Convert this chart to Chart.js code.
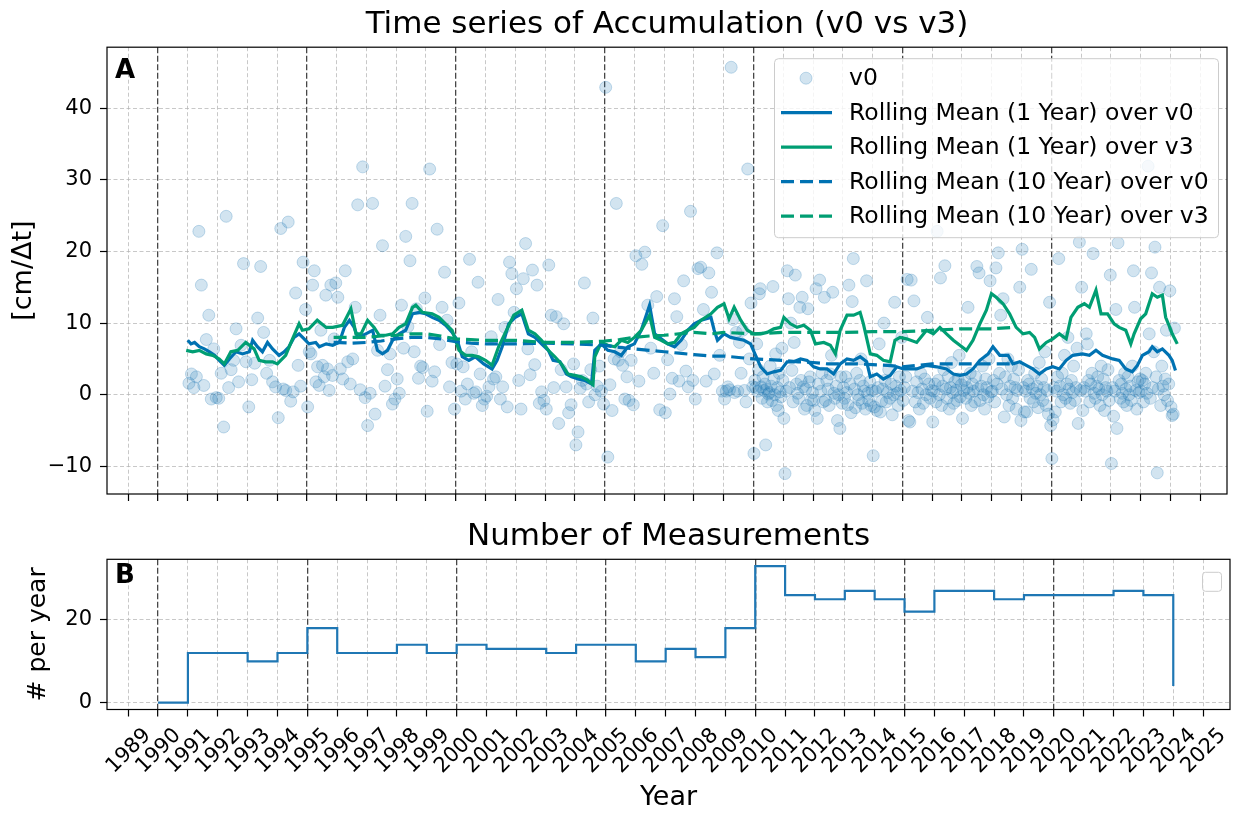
<!DOCTYPE html>
<html>
<head>
<meta charset="utf-8">
<script src="https://cdn.jsdelivr.net/npm/chart.js@4"></script>
<style>
  html, body { margin: 0; padding: 0; background: #fff; overflow: hidden; }
  #wrap { position: relative; width: 1234px; height: 814px; }
  #topBox { position: absolute; left: 0; top: 0; }
  #bottomBox { position: absolute; left: 0; top: 500px; }
</style>
</head>
<body>
<div id="wrap">
  <div id="topBox"><canvas id="accChart" width="1234" height="520"></canvas></div>
  <div id="bottomBox"><canvas id="countChart" width="1234" height="314"></canvas></div>
</div>
<script>
// --- data ---
const yearTicks = [1989, 1990, 1991, 1992, 1993, 1994, 1995, 1996, 1997, 1998, 1999, 2000, 2001, 2002,
    2003, 2004, 2005, 2006, 2007, 2008, 2009, 2010, 2011, 2012, 2013, 2014, 2015, 2016, 2017, 2018,
    2019, 2020, 2021, 2022, 2023, 2024, 2025];
const accTicks = [-10, 0, 10, 20, 30, 40];
const countTicks = [0, 20];
const markerYears = [1990, 1995, 2000, 2005, 2010, 2015, 2020];

// accumulation per measurement (v0), grouped by year, in time order
const scatterYears = [1991, 1992, 1993, 1994, 1995, 1996, 1997, 1998, 1999, 2000, 2001, 2002, 2003, 2004,
    2005, 2006, 2007, 2008, 2009, 2010, 2011, 2012, 2013, 2014, 2015, 2016, 2017, 2018, 2019, 2020,
    2021, 2022, 2023, 2024];
const scatterValues = [
    [1.6, 2.9, 1.0, 2.5, 22.8, 15.3, 1.3, 7.7, 11.1, -0.6, 6.4, -0.4],
    [-0.5, 3.0, -4.5, 24.9, 1.0, 3.5, 4.8, 9.2, 1.8, 6.9, 18.3, 4.6],
    [-1.7, 2.1, 4.4, 10.7, 17.9, 8.7, 3.0, 4.8, 1.8, 1.1],
    [-3.2, 23.2, 0.8, 0.6, 24.1, -0.9, 0.4, 14.2, 4.1, 1.2, 18.5, 11.9],
    [-1.7, 6.0, 5.7, 15.3, 17.3, 1.8, 3.9, 1.3, 9.0, 4.1, 2.5, 13.9, 3.6, 0.6, 15.3, 2.7, 7.8, 15.6],
    [13.6, 3.6, 2.2, 17.3, 4.6, 1.5, 5.0, 12.2, 26.5, 0.7, 31.8, -0.4],
    [-4.3, 0.2, 26.7, -2.7, 6.2, 11.1, 20.8, 1.2, 3.5, 5.7, -1.3, -0.6],
    [2.2, 0.2, 12.5, 6.5, 22.1, 9.5, 18.7, 26.7, 6.0, 12.0, 2.3, 4.0, 3.8, 13.5],
    [-2.3, 31.5, 1.9, 3.2, 23.1, 7.0, 12.2, 17.1, 10.4, 1.1, 4.5, -2.0],
    [4.3, 12.8, 0.5, 3.9, -0.6, 1.5, 18.9, 6.0, 0.2, 0.4, 15.7, 2.9, -1.5, -0.6],
    [-0.2, 1.1, 8.1, 2.2, 2.5, 13.3, -0.6, 1.1, 9.4, -1.7, 18.5, 16.9, 11.5],
    [14.8, 2.0, -2.0, 16.2, 21.1, 6.4, 2.8, 17.4, 4.2, 15.3, -1.2, 0.4, -0.8],
    [-2.0, 18.1, 11.1, 1.0, 10.9, -4.0, 3.5, 9.9, 1.1, -2.5, -1.4, 4.3],
    [-7.0, -5.2, 0.9, 2.0, 15.6, 1.5, -1.0, 3.5, 10.7, 0.0, 1.2, 4.0, 0.5, -1.3],
    [42.9, -8.7, 1.4, -2.2, 5.0, 26.7, 4.8, 6.0, 4.1, -0.6, 2.5, -0.8, 4.8, -1.4],
    [19.4, 1.9, 18.2, 19.9, 12.5, 6.5, 3.0, 13.7, -2.1, 23.6],
    [-2.5, 4.9, 0.1, 2.3, 13.4, 10.9, 1.9, 7.0, 15.9, 3.3, 1.1, 25.6, 2.0],
    [-0.6, 17.6, 17.8, 11.9, 1.9, 17.0, 14.3, 2.9, 19.8, 5.5, 0.5],
    [-0.6, 0.5, 1.1, 0.7, 45.7, 10.5, 0.3, 8.7, 0.5, 7.3, 3.0, 9.0, 0.6, -1.0, 31.5, 5.0, 12.8, 1.1],
    [-8.2, 2.0, 1.0, 7.1, 0.5, 3.5, 14.1, 14.8, 1.1, -0.5, 2.5, 0.6, 1.5, -7.0, 0.8, -1.0, 0.1, 0.3,
     4.0, 1.2, -0.8, 15.1, 2.2, 0.0, 5.7, -1.5, 1.0, -2.2, 3.0, 0.4, -0.3, 6.5, 2.0],
    [-3.3, -11.0, 0.5, 17.3, 13.4, 1.0, 10.0, 3.4, -1.0, 7.3, 16.7, 1.5, 0.2, -0.5, 12.2, 2.0, 13.6,
     1.1, -2.0, 0.8, -1.5, 12.0, 1.8, 2.5, -0.7, 0.3],
    [-0.8, -2.2, 14.8, -3.3, 1.5, 16.0, 0.5, 3.0, -1.0, 13.6, -0.8, 2.0, 0.8, -1.5, 2.9, 5.5, 14.3,
     0.2, -0.5, 1.2, -3.6, 0.0, -4.7, 2.5, -1.2],
    [1.0, -0.5, 2.5, 0.3, -1.4, 15.3, 1.5, -2.5, 13.0, 19.0, 0.8, -1.8, 3.0, 0.0, -0.7, 2.0, 5.0,
     -1.2, 1.2, 0.5, -2.0, 15.9, 0.2, -0.8, 1.8, -1.5, 0.6],
    [-8.5, -1.7, 0.5, -2.2, 1.0, 7.1, -2.4, -0.9, 0.8, 10.0, 2.0, -1.0, 0.3, 3.5, -0.5, 1.5, -2.8,
     0.0, 12.9, 1.2, 0.2, -1.5, 2.5, 0.6, 8.0],
    [-0.8, 1.0, 2.5, 16.1, -3.6, -3.8, 16.0, 0.5, 13.1, -1.0, 1.8, 0.3, -2.0, 3.0, 0.8, -1.2, 2.2,
     0.0, 10.8, 1.5, -0.5, 0.6],
    [-3.8, 0.5, 1.5, -1.0, 22.8, 2.0, 0.0, 16.3, -1.5, 1.2, 3.5, 18.0, 0.8, -0.5, 2.5, -2.0, 1.0, 4.5,
     0.3, -1.2, 1.8, 0.6, -0.8, 2.2, 5.5, -0.3, 1.4],
    [-3.3, 0.6, 2.0, -0.5, 1.0, 12.2, 0.2, 3.0, -1.5, 1.5, 0.5, -1.0, 2.5, 17.9, 0.8, 17.0, -0.8, 1.2,
     4.0, 0.0, -2.0, 2.2, 1.0, -0.3, 5.0, 15.9, 0.4],
    [0.5, 2.0, -1.0, 17.7, 1.5, 19.8, 3.0, 11.1, 0.8, 13.4, -3.1, 2.5, 0.0, 5.0, -1.5, 1.2, 4.0, -0.5,
     2.2, 1.0, -2.0, 0.6, 3.5, 15.0, -3.6],
    [20.3, 1.0, -2.4, 0.5, -2.4, 2.0, 1.5, -0.5, 17.5, 0.8, -1.0, 3.0, 0.2, 1.2, -1.8, 4.5, 0.0, 2.2,
     -0.8, 1.0, 6.0, -1.5, 0.6, -2.7, 12.9, -4.3],
    [-8.9, -3.5, 1.0, -2.4, 0.5, 2.5, 19.0, 1.2, -1.0, 3.0, 0.0, 5.5, -0.5, 1.5, 8.0, 0.8, -1.2, 2.0,
     0.3, 4.0, -0.8, 1.0, 6.5, -4.0, 21.3, 0.6],
    [15.0, -2.2, 1.0, 0.5, 8.5, 7.1, 2.0, -1.0, 1.5, 3.0, 19.7, 0.2, -0.5, 1.2, 2.5, 0.8, -1.5, 4.0,
     0.0, 2.2, -2.2, 1.0, 0.5, 3.5, -0.8, 16.7],
    [-9.6, 1.0, -3.0, 0.5, 11.9, -4.7, 21.2, 2.0, -0.5, 1.5, 0.2, -1.0, 3.0, 0.8, -1.5, 2.5, 0.0, 1.2,
     -0.8, 4.0, 17.3, 12.2, 0.6, -2.0, 1.8, 0.3, 2.2],
    [0.5, 2.0, -1.0, 1.5, 3.0, 0.2, 31.9, 8.5, -0.5, 17.0, 1.0, 6.0, 20.6, 2.5, -10.9, 0.8, 15.0, -1.5,
     4.0, 1.2, 0.0, 2.2, 9.0, -0.8, 1.5, 14.5],
    [-1.7, -2.9, -2.7, 9.3]
];

// rolling means, [decimal year, cm/Δt]
const roll1V0 = [[1991.00,7.6],[1991.11,7.1],[1991.23,7.3],[1991.39,6.7],[1991.56,6.4],[1991.73,6.0],[1991.90,5.5],
    [1992.06,4.8],[1992.23,4.1],[1992.40,5.0],[1992.62,6.0],[1992.84,5.7],[1993.07,6.0],[1993.18,7.6],[1993.34,6.7],
    [1993.51,6.0],[1993.68,7.3],[1993.85,6.4],[1994.07,5.5],[1994.24,6.0],[1994.40,6.7],[1994.57,8.0],[1994.74,8.5],
    [1994.91,7.8],[1995.07,7.1],[1995.30,7.3],[1995.42,6.7],[1995.65,7.1],[1995.87,6.9],[1996.09,7.3],[1996.26,9.4],
    [1996.43,10.4],[1996.59,9.4],[1996.71,8.0],[1996.98,8.5],[1997.21,9.0],[1997.37,6.2],[1997.54,5.7],[1997.71,6.2],
    [1997.88,7.6],[1998.10,8.5],[1998.32,9.0],[1998.55,11.3],[1998.77,11.5],[1998.99,11.3],[1999.21,10.8],[1999.44,10.4],
    [1999.66,9.7],[1999.88,8.7],[2000.05,7.6],[2000.22,5.3],[2000.44,4.8],[2000.66,5.3],[2000.94,4.3],[2001.22,3.6],
    [2001.39,4.8],[2001.56,6.7],[2001.78,9.9],[2002.00,10.8],[2002.22,11.3],[2002.44,8.5],[2002.66,8.0],[2002.88,7.1],
    [2003.11,6.2],[2003.27,4.8],[2003.50,4.6],[2003.72,2.9],[2003.89,2.5],[2004.11,2.2],[2004.33,2.0],[2004.56,1.5],
    [2004.67,6.2],[2004.89,7.1],[2005.11,6.2],[2005.34,6.0],[2005.56,5.5],[2005.78,6.7],[2006.00,7.1],[2006.23,9.0],
    [2006.51,12.5],[2006.68,8.5],[2006.90,7.8],[2007.12,7.1],[2007.35,6.7],[2007.57,7.6],[2007.79,9.0],[2008.01,9.9],
    [2008.24,10.4],[2008.57,10.8],[2008.68,9.0],[2008.79,7.6],[2009.01,8.5],[2009.23,8.0],[2009.46,7.8],[2009.68,7.6],
    [2009.90,7.1],[2010.07,5.5],[2010.24,3.9],[2010.46,2.9],[2010.68,3.2],[2010.91,3.4],[2011.13,4.6],[2011.35,4.6],
    [2011.58,5.0],[2011.80,4.8],[2012.02,3.9],[2012.24,3.6],[2012.47,3.6],[2012.69,2.9],[2012.91,4.3],[2013.14,5.0],
    [2013.36,4.8],[2013.58,5.3],[2013.80,4.6],[2013.92,2.5],[2014.14,2.9],[2014.36,2.2],[2014.59,2.7],[2014.81,3.9],
    [2015.03,3.6],[2015.48,3.6],[2015.81,4.1],[2016.15,3.9],[2016.48,3.6],[2016.71,2.9],[2016.93,2.7],[2017.15,2.9],
    [2017.37,3.6],[2017.60,4.8],[2017.88,5.7],[2018.04,6.7],[2018.27,5.5],[2018.55,5.5],[2018.71,4.3],[2018.94,4.6],
    [2019.16,4.1],[2019.38,3.6],[2019.60,2.9],[2019.83,3.6],[2020.05,3.9],[2020.27,3.6],[2020.50,4.8],[2020.72,5.5],
    [2021.05,5.7],[2021.28,5.5],[2021.50,6.2],[2021.72,5.5],[2022.06,5.0],[2022.28,4.8],[2022.50,3.6],[2022.72,3.2],
    [2022.89,4.1],[2023.06,5.5],[2023.28,6.0],[2023.39,6.7],[2023.56,6.0],[2023.73,6.4],[2023.95,5.5],[2024.06,4.8],
    [2024.17,3.4]];
const roll1V3 = [[1990.95,6.2],[1991.17,6.0],[1991.39,6.2],[1991.62,5.7],[1991.84,5.5],[1992.06,5.0],[1992.23,4.3],
    [1992.45,6.0],[1992.68,6.2],[1992.95,7.3],[1993.23,6.4],[1993.40,4.8],[1993.62,4.6],[1993.85,4.6],[1994.01,4.3],
    [1994.29,5.5],[1994.52,7.8],[1994.74,9.9],[1994.85,9.0],[1995.07,9.2],[1995.35,10.4],[1995.65,9.4],[1995.87,9.4],
    [1996.20,9.7],[1996.48,12.0],[1996.65,8.5],[1996.82,8.5],[1997.04,10.4],[1997.26,9.4],[1997.43,8.3],[1997.65,8.3],
    [1997.88,8.5],[1998.10,9.4],[1998.32,9.9],[1998.55,12.2],[1998.66,12.5],[1998.88,11.5],[1999.21,11.3],[1999.44,10.8],
    [1999.66,9.9],[1999.88,9.0],[2000.11,6.2],[2000.33,5.5],[2000.55,5.5],[2000.77,5.3],[2001.00,4.8],[2001.22,4.1],
    [2001.44,6.7],[2001.67,8.7],[2001.95,11.1],[2002.22,11.8],[2002.44,9.0],[2002.66,8.5],[2002.88,7.6],[2003.11,6.2],
    [2003.33,5.3],[2003.55,4.3],[2003.77,2.9],[2004.00,2.7],[2004.22,2.5],[2004.44,2.0],[2004.61,1.4],[2004.67,5.3],
    [2004.89,7.3],[2005.11,6.9],[2005.34,6.7],[2005.56,7.6],[2005.78,7.3],[2006.00,8.0],[2006.23,9.0],[2006.51,11.1],
    [2006.68,8.0],[2006.90,7.6],[2007.12,7.1],[2007.35,7.3],[2007.57,8.5],[2007.79,9.0],[2008.01,9.4],[2008.24,10.4],
    [2008.57,11.3],[2008.79,12.2],[2009.01,12.7],[2009.18,10.6],[2009.35,12.2],[2009.57,10.4],[2009.79,9.0],[2010.01,8.5],
    [2010.24,8.5],[2010.46,8.7],[2010.68,9.2],[2010.91,9.4],[2011.02,10.8],[2011.24,9.9],[2011.46,9.4],[2011.69,9.7],
    [2011.91,9.0],[2012.08,7.1],[2012.36,7.3],[2012.58,6.9],[2012.75,5.7],[2012.91,9.0],[2013.14,11.1],[2013.36,11.1],
    [2013.58,11.5],[2013.69,9.9],[2013.92,5.7],[2014.14,5.5],[2014.36,4.8],[2014.59,4.6],[2014.75,7.6],[2014.92,8.0],
    [2015.14,7.8],[2015.48,7.3],[2015.81,9.0],[2016.04,8.5],[2016.26,9.4],[2016.48,8.5],[2016.71,7.6],[2016.93,6.9],
    [2017.15,6.2],[2017.37,7.6],[2017.60,9.9],[2017.82,11.8],[2017.99,14.1],[2018.15,13.6],[2018.38,12.7],[2018.60,11.3],
    [2018.82,9.4],[2019.05,8.5],[2019.27,8.7],[2019.44,8.0],[2019.60,6.4],[2019.83,7.3],[2020.05,7.8],[2020.27,8.5],
    [2020.50,7.8],[2020.66,10.8],[2020.89,12.2],[2021.11,12.7],[2021.28,12.2],[2021.50,14.6],[2021.67,11.3],[2021.89,11.3],
    [2022.11,9.9],[2022.28,9.4],[2022.50,9.0],[2022.67,7.1],[2022.78,8.5],[2023.00,10.6],[2023.17,11.3],[2023.39,14.1],
    [2023.56,13.6],[2023.73,13.9],[2023.84,10.8],[2023.95,9.7],[2024.06,8.5],[2024.23,7.1]];
const roll10V0 = [[1995.9,7.3],[1996.5,7.2],[1997.0,7.3],[1997.5,7.5],[1998.0,7.8],[1998.5,8.0],[1999.0,8.0],
    [1999.5,7.8],[2000.0,7.4],[2000.5,7.2],[2001.0,7.1],[2002.0,7.1],[2003.0,7.2],[2004.0,7.1],[2005.0,6.9],
    [2005.5,6.6],[2006.0,6.4],[2006.5,6.2],[2007.0,6.0],[2007.5,5.8],[2008.0,5.6],[2008.6,5.4],[2009.0,5.4],
    [2009.5,5.2],[2010.0,5.0],[2010.5,4.9],[2011.0,4.8],[2011.5,4.6],[2012.0,4.5],[2012.5,4.3],[2013.0,4.3],
    [2013.5,4.3],[2014.0,4.2],[2014.5,4.1],[2015.0,3.9],[2015.5,4.1],[2016.0,4.3],[2016.5,4.3],[2017.0,4.3],
    [2017.5,4.3],[2018.0,4.3],[2018.7,4.3]];
const roll10V3 = [[1995.9,8.0],[1996.5,8.0],[1997.0,8.0],[1997.5,8.2],[1998.0,8.3],[1998.5,8.5],[1999.0,8.5],
    [1999.5,8.2],[2000.0,7.8],[2000.5,7.7],[2001.0,7.6],[2002.0,7.6],[2003.0,7.3],[2004.0,7.3],[2005.0,7.5],
    [2005.5,7.7],[2006.0,8.0],[2006.5,8.2],[2007.0,8.3],[2007.5,8.5],[2008.0,8.7],[2008.6,8.5],[2009.0,8.7],
    [2010.0,8.5],[2011.0,8.7],[2012.0,8.7],[2013.0,8.7],[2014.0,8.8],[2015.0,8.8],[2016.0,9.0],[2017.0,9.2],
    [2018.0,9.2],[2018.7,9.4]];

// number of measurements per year (panel B)
const countYears = [1990, 1991, 1992, 1993, 1994, 1995, 1996, 1997, 1998, 1999, 2000, 2001, 2002, 2003,
    2004, 2005, 2006, 2007, 2008, 2009, 2010, 2011, 2012, 2013, 2014, 2015, 2016, 2017, 2018, 2019,
    2020, 2021, 2022, 2023, 2024];
const countValues = [0, 12, 12, 10, 12, 18, 12, 12, 14, 12, 14, 13, 13, 12, 14, 14, 10, 13, 11, 18,
    33, 26, 25, 27, 25, 22, 27, 27, 25, 26, 26, 26, 27, 26, 4];

// --- styling ---
Chart.defaults.font.family = '"DejaVu Sans", sans-serif';
Chart.defaults.color = '#000';

const BLUE = '#0072B2';
const GREEN = '#009E73';
const DOT_FILL = 'rgba(31,119,180,0.2)';
const DOT_EDGE = 'rgba(31,119,180,0.25)';
const TICK_FONT = 21;

// measurements within a year are evenly spaced; the last (partial) year keeps a 2-week step
const scatterPoints = [];
scatterYears.forEach((yr, k) => {
    const vals = scatterValues[k];
    const step = vals.length > 6 ? 1 / vals.length : 1 / 26;
    vals.forEach((v, i) => scatterPoints.push({ x: yr + (i + 0.5) * step, y: v }));
});
const toXY = arr => arr.map(p => ({ x: p[0], y: p[1] }));

const isMarker = ctx => ctx.tick && markerYears.includes(ctx.tick.value);
const xGrid = {
    color: ctx => isMarker(ctx) ? 'rgba(0,0,0,0.72)' : 'rgba(176,176,176,0.7)',
    lineWidth: ctx => isMarker(ctx) ? 1.3 : 1,
    tickColor: '#000',
    tickLength: 7,
    tickWidth: 1.2
};
const xBorder = { display: false, dash: ctx => isMarker(ctx) ? [6, 2.5] : [4, 2.5] };
const yGrid = { color: 'rgba(176,176,176,0.7)', lineWidth: 1, tickColor: '#000', tickLength: 7, tickWidth: 1.2 };
const yBorder = { display: false, dash: [4, 2.5] };
const minusFmt = v => v < 0 ? '\u2212' + Math.abs(v) : String(v);

// frame, panel letter, rotated year labels and the matplotlib-like legend
const framePlugin = {
    id: 'frame',
    afterDatasetsDraw(chart, args, opts) {
        const { ctx, chartArea: a } = chart;
        const h = a.bottom - a.top;
        ctx.save();
        ctx.fillStyle = '#000';
        ctx.font = 'bold 26px "DejaVu Sans"';
        ctx.textBaseline = 'alphabetic';
        ctx.fillText(opts.letter, a.left + 8, a.top + 0.025 * h + 20);

        if (opts.yearLabels) {
            // 45° labels centred under their tick, like matplotlib's ha='center'
            const xs = chart.scales.x;
            ctx.font = TICK_FONT + 'px "DejaVu Sans"';
            ctx.textAlign = 'center';
            ctx.textBaseline = 'alphabetic';
            xs.ticks.forEach(t => {
                const px = xs.getPixelForValue(t.value);
                ctx.save();
                ctx.translate(px - 1, a.bottom + 40);
                ctx.rotate(-Math.PI / 4);
                ctx.fillText(String(t.value), 0, TICK_FONT * 0.365);
                ctx.restore();
            });
            ctx.textAlign = 'left';
        }

        if (opts.legend) {
            const x0 = a.right - 452.5, y0 = a.top + 11.5, w = 444, hh = 179;
            ctx.beginPath();
            ctx.roundRect(x0, y0, w, hh, 4);
            ctx.fillStyle = 'rgba(255,255,255,0.8)';
            ctx.fill();
            ctx.strokeStyle = '#cccccc';
            ctx.lineWidth = 1;
            ctx.stroke();
            ctx.font = '23.5px "DejaVu Sans"';
            ctx.textBaseline = 'middle';
            chart.data.datasets.forEach((ds, i) => {
                const cy = y0 + 19.5 + i * 34.5;
                if (ds.showLine) {
                    ctx.beginPath();
                    ctx.setLineDash(ds.borderDash || []);
                    ctx.moveTo(x0 + 6.5, cy);
                    ctx.lineTo(x0 + 57.5, cy);
                    ctx.strokeStyle = ds.borderColor;
                    ctx.lineWidth = ds.borderWidth;
                    ctx.stroke();
                    ctx.setLineDash([]);
                } else {
                    ctx.beginPath();
                    ctx.arc(x0 + 31.5, cy, ds.pointRadius, 0, Math.PI * 2);
                    ctx.fillStyle = ds.backgroundColor;
                    ctx.fill();
                    ctx.strokeStyle = ds.borderColor;
                    ctx.lineWidth = ds.borderWidth;
                    ctx.stroke();
                }
                ctx.fillStyle = '#000';
                ctx.fillText(ds.label, x0 + 74.5, cy + 1);
            });
        }
        if (opts.emptyLegend) {
            ctx.beginPath();
            ctx.roundRect(a.right - 27.5, a.top + 13, 19, 19, 3);
            ctx.fillStyle = 'rgba(255,255,255,0.8)';
            ctx.fill();
            ctx.strokeStyle = '#cccccc';
            ctx.lineWidth = 1;
            ctx.stroke();
        }
        ctx.strokeStyle = '#000';
        ctx.lineWidth = 1.2;
        ctx.strokeRect(a.left, a.top, a.right - a.left, a.bottom - a.top);
        ctx.restore();
    }
};

// --- panel A ---
new Chart(document.getElementById('accChart'), {
    type: 'scatter',
    data: {
        datasets: [
            { label: 'v0', data: scatterPoints, showLine: false, pointRadius: 6, borderWidth: 1,
              backgroundColor: DOT_FILL, borderColor: DOT_EDGE, order: 5 },
            { label: 'Rolling Mean (1 Year) over v0', data: toXY(roll1V0), showLine: true, pointRadius: 0,
              borderColor: BLUE, borderWidth: 3.2, order: 4 },
            { label: 'Rolling Mean (1 Year) over v3', data: toXY(roll1V3), showLine: true, pointRadius: 0,
              borderColor: GREEN, borderWidth: 3.2, order: 3 },
            { label: 'Rolling Mean (10 Year) over v0', data: toXY(roll10V0), showLine: true, pointRadius: 0,
              borderColor: BLUE, borderWidth: 3.2, borderDash: [13, 6], order: 2 },
            { label: 'Rolling Mean (10 Year) over v3', data: toXY(roll10V3), showLine: true, pointRadius: 0,
              borderColor: GREEN, borderWidth: 3.2, borderDash: [13, 6], order: 1 }
        ]
    },
    options: {
        responsive: false,
        animation: false,
        layout: { padding: { left: 0, right: 4, top: 0, bottom: 0 } },
        plugins: {
            legend: { display: false },
            tooltip: { enabled: false },
            title: { display: true, fullSize: false, text: 'Time series of Accumulation (v0 vs v3)',
                     font: { size: 31, weight: 'normal' }, padding: { top: 6, bottom: 4 } },
            frame: { letter: 'A', legend: true }
        },
        scales: {
            x: {
                type: 'linear', min: 1988.29, max: 2025.9,
                afterBuildTicks: s => { s.ticks = yearTicks.map(v => ({ value: v })); },
                afterFit: s => { s.height = 26; },
                ticks: { display: false },
                grid: xGrid, border: xBorder
            },
            y: {
                min: -13.85, max: 48.5,
                afterBuildTicks: s => { s.ticks = accTicks.map(v => ({ value: v })); },
                afterFit: s => { s.width = 107; },
                ticks: { font: { size: TICK_FONT }, padding: 8, callback: minusFmt },
                title: { display: true, text: '[cm/Δt]', font: { size: 27 }, padding: { top: 8, bottom: 0 } },
                grid: yGrid, border: yBorder
            }
        }
    },
    plugins: [framePlugin]
});

// --- panel B ---
new Chart(document.getElementById('countChart'), {
    type: 'scatter',
    data: {
        datasets: [{
            label: 'count',
            data: countYears.map((y, i) => ({ x: y, y: countValues[i] })),
            showLine: true, stepped: true, pointRadius: 0,
            borderColor: '#1f77b4', borderWidth: 2.2
        }]
    },
    options: {
        responsive: false,
        animation: false,
        layout: { padding: { left: 0, right: 4, top: 0, bottom: 0 } },
        plugins: {
            legend: { display: false },
            tooltip: { enabled: false },
            title: { display: true, fullSize: false, text: 'Number of Measurements',
                     font: { size: 31, weight: 'normal' }, padding: { top: 18.5, bottom: 3.6 } },
            frame: { letter: 'B', emptyLegend: true, yearLabels: true }
        },
        scales: {
            x: {
                type: 'linear', min: 1988.29, max: 2025.9,
                afterBuildTicks: s => { s.ticks = yearTicks.map(v => ({ value: v })); },
                afterFit: s => { s.height = 104.5; },
                ticks: { display: false },
                title: { display: true, text: 'Year', font: { size: 27 }, padding: { top: 0, bottom: 0 } },
                grid: xGrid, border: xBorder
            },
            y: {
                min: -1.65, max: 34.65,
                afterBuildTicks: s => { s.ticks = countTicks.map(v => ({ value: v })); },
                afterFit: s => { s.width = 107; },
                ticks: { font: { size: TICK_FONT }, padding: 8, callback: minusFmt },
                title: { display: true, text: '# per year', font: { size: 25 }, padding: { top: 23, bottom: 0 } },
                grid: yGrid, border: yBorder
            }
        }
    },
    plugins: [framePlugin]
});
</script>
</body>
</html>
